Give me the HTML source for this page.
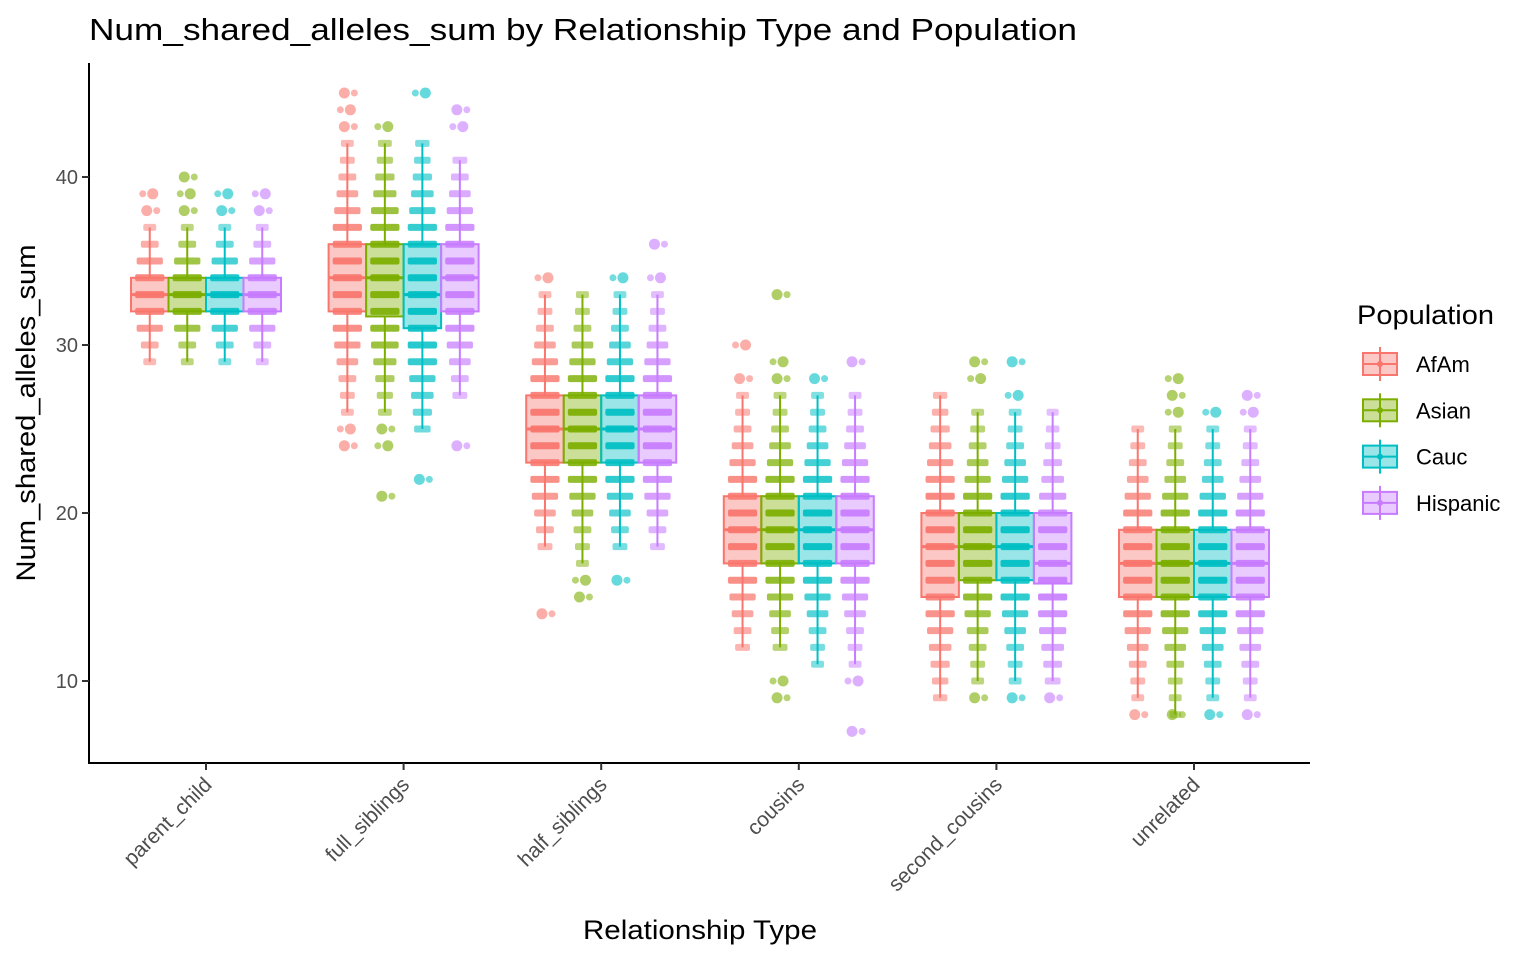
<!DOCTYPE html>
<html><head><meta charset="utf-8"><style>
html,body{margin:0;padding:0;background:#fff;width:1536px;height:960px;overflow:hidden;font-family:"Liberation Sans",Arial,sans-serif}
</style></head><body>
<svg id="chart" width="1536" height="960" xmlns="http://www.w3.org/2000/svg" font-family="Liberation Sans, Arial, sans-serif">
<text x="89" y="40" font-size="31" textLength="988" lengthAdjust="spacingAndGlyphs" fill="#000">Num_shared_alleles_sum by Relationship Type and Population</text>
<g id="plot"></g>
<line x1="89" y1="63" x2="89" y2="763" stroke="#000" stroke-width="2"/>
<line x1="88" y1="763" x2="1310" y2="763" stroke="#000" stroke-width="2"/>
<g id="axes"></g>
<text transform="translate(35,413) rotate(-90)" text-anchor="middle" font-size="27" textLength="337" lengthAdjust="spacingAndGlyphs">Num_shared_alleles_sum</text>
<text x="700" y="939" text-anchor="middle" font-size="27" textLength="234" lengthAdjust="spacingAndGlyphs">Relationship Type</text>
<g id="legend"></g>
</svg>
<script>
const groups = ['parent_child','full_siblings','half_siblings','cousins','second_cousins','unrelated'];
const pops = ['AfAm','Asian','Cauc','Hispanic'];
const colors = ['#F8766D','#7CAE00','#00BFC4','#C77CFF'];
const q1 = [[32,32,32,32],[32,31.7,31,32],[23,23,23,23],[17,17,17,17],[15,16,16,15.8],[15,15,15,15]];
const med = [[33,33,33,33],[34,34,33,34],[25,25,25,25],[19,19,19,19],[18,18,18,17],[17,17,17,17]];
const q3 = [[34,34,34,34],[36,36,36,36],[27,27,27,27],[21,21,21,21],[20,20,20,20],[19,19,19,19]];
const wlo = [[29,29,29,29],[26,26,25,27],[18,17,18,18],[12,12,11,11],[9,10,10,10],[9,8,9,9]];
const whi = [[37,37,37,37],[42,42,42,41],[33,33,33,33],[27,27,27,27],[27,26,26,26],[25,25,25,25]];
const outliers = [[[38,39],[38,39,40],[38,39],[38,39]],[[24,25,43,44,45],[21,24,25,43],[22,45],[24,43,44]],[[14,34],[15,16],[16,34],[36,34]],[[28,30],[9,10,28,29,33],[28],[7,10,29]],[[],[9,28,29],[9,27,29],[9]],[[8],[8,26,27,28],[8,26],[8,26,27]]];
const yTicks = [10,20,30,40];

const NS='http://www.w3.org/2000/svg';
const y = v => 681 - (v-10)*16.8;
const xg = i => 206 + i*197.6;
const bw = 37.5;
const xb = (i,j) => xg(i) - 75 + bw*j + bw/2;
function mk(tag, attrs, parent){const e=document.createElementNS(NS,tag);for(const k in attrs)e.setAttribute(k,attrs[k]);parent.appendChild(e);return e;}
const plot=document.getElementById('plot'), axes=document.getElementById('axes'), legend=document.getElementById('legend');

groups.forEach((g,i)=>{
  pops.forEach((p,j)=>{
    const c=colors[j], cx=xb(i,j);
    const bx=mk('rect',{x:cx-bw/2,y:y(q3[i][j]),width:bw,height:y(q1[i][j])-y(q3[i][j]),fill:c,'fill-opacity':0.4,stroke:c,'stroke-width':2},plot);
    
    
    const w1=mk('line',{x1:cx,x2:cx,y1:y(q3[i][j]),y2:y(whi[i][j]),stroke:c,'stroke-width':2},plot);
    
    
    const w2=mk('line',{x1:cx,x2:cx,y1:y(q1[i][j]),y2:y(wlo[i][j]),stroke:c,'stroke-width':2},plot);
    
    
    const spread=Math.max(1,q3[i][j]-q1[i][j]);
    for(let v=Math.ceil(wlo[i][j]); v<=whi[i][j]; v++){
      const d=(v-med[i][j])/spread;
      const f=Math.exp(-d*d*0.6);
      const wdt=Math.max(8, bw*0.78*Math.min(1,0.35+f));
      const row=mk('rect',{x:cx-wdt/2,y:y(v)-3.5,width:wdt,height:7,rx:2,fill:c,'fill-opacity':(0.45+0.5*f).toFixed(2)},plot);
      
      
    }
    outliers[i][j].forEach((v,k)=>{
      const o=mk('circle',{cx:cx+(k%2?3:-3),cy:y(v),r:5.5,fill:c,'fill-opacity':0.6},plot);
      
      
      const o2=mk('circle',{cx:cx+(k%2?-7:7),cy:y(v),r:3.5,fill:c,'fill-opacity':0.55},plot);
      
      
    });
    const m=mk('line',{x1:cx-bw/2,x2:cx+bw/2,y1:y(med[i][j]),y2:y(med[i][j]),stroke:c,'stroke-width':3},plot);
    
    
  });
  const t=mk('line',{x1:xg(i),x2:xg(i),y1:763,y2:770,stroke:'#333','stroke-width':2},axes);
  
  
  const lb=mk('text',{transform:`translate(${xg(i)+7},${786}) rotate(-45)`,'text-anchor':'end','font-size':21,fill:'#4d4d4d'},axes);
  lb.textContent=g;
  
  
});
yTicks.forEach(v=>{
  const t=mk('line',{x1:82,x2:89,y1:y(v),y2:y(v),stroke:'#333','stroke-width':2},axes);
  
  
  const lb=mk('text',{x:78,y:y(v)+7,'text-anchor':'end','font-size':20,fill:'#4d4d4d'},axes);
  lb.textContent=v;
  
  
});
const lt=mk('text',{x:1357,y:324,'font-size':27,textLength:137,lengthAdjust:'spacingAndGlyphs'},legend);
lt.textContent='Population';


pops.forEach((p,j)=>{
  const cy=364+j*46.3, c=colors[j];
  const kg=mk('g',{},legend);
  
  
  mk('line',{x1:1380,x2:1380,y1:cy-17,y2:cy+17,stroke:c,'stroke-width':2},kg);
  mk('rect',{x:1363,y:cy-11,width:34,height:22,fill:c,'fill-opacity':0.4,stroke:c,'stroke-width':2},kg);
  mk('line',{x1:1363,x2:1397,y1:cy,y2:cy,stroke:c,'stroke-width':2},kg);
  mk('circle',{cx:1380,cy:cy,r:3,fill:c},kg);
  const tx=mk('text',{x:1416,y:cy+8,'font-size':22},kg);
  tx.textContent=p;
});
</script>
</body></html>
